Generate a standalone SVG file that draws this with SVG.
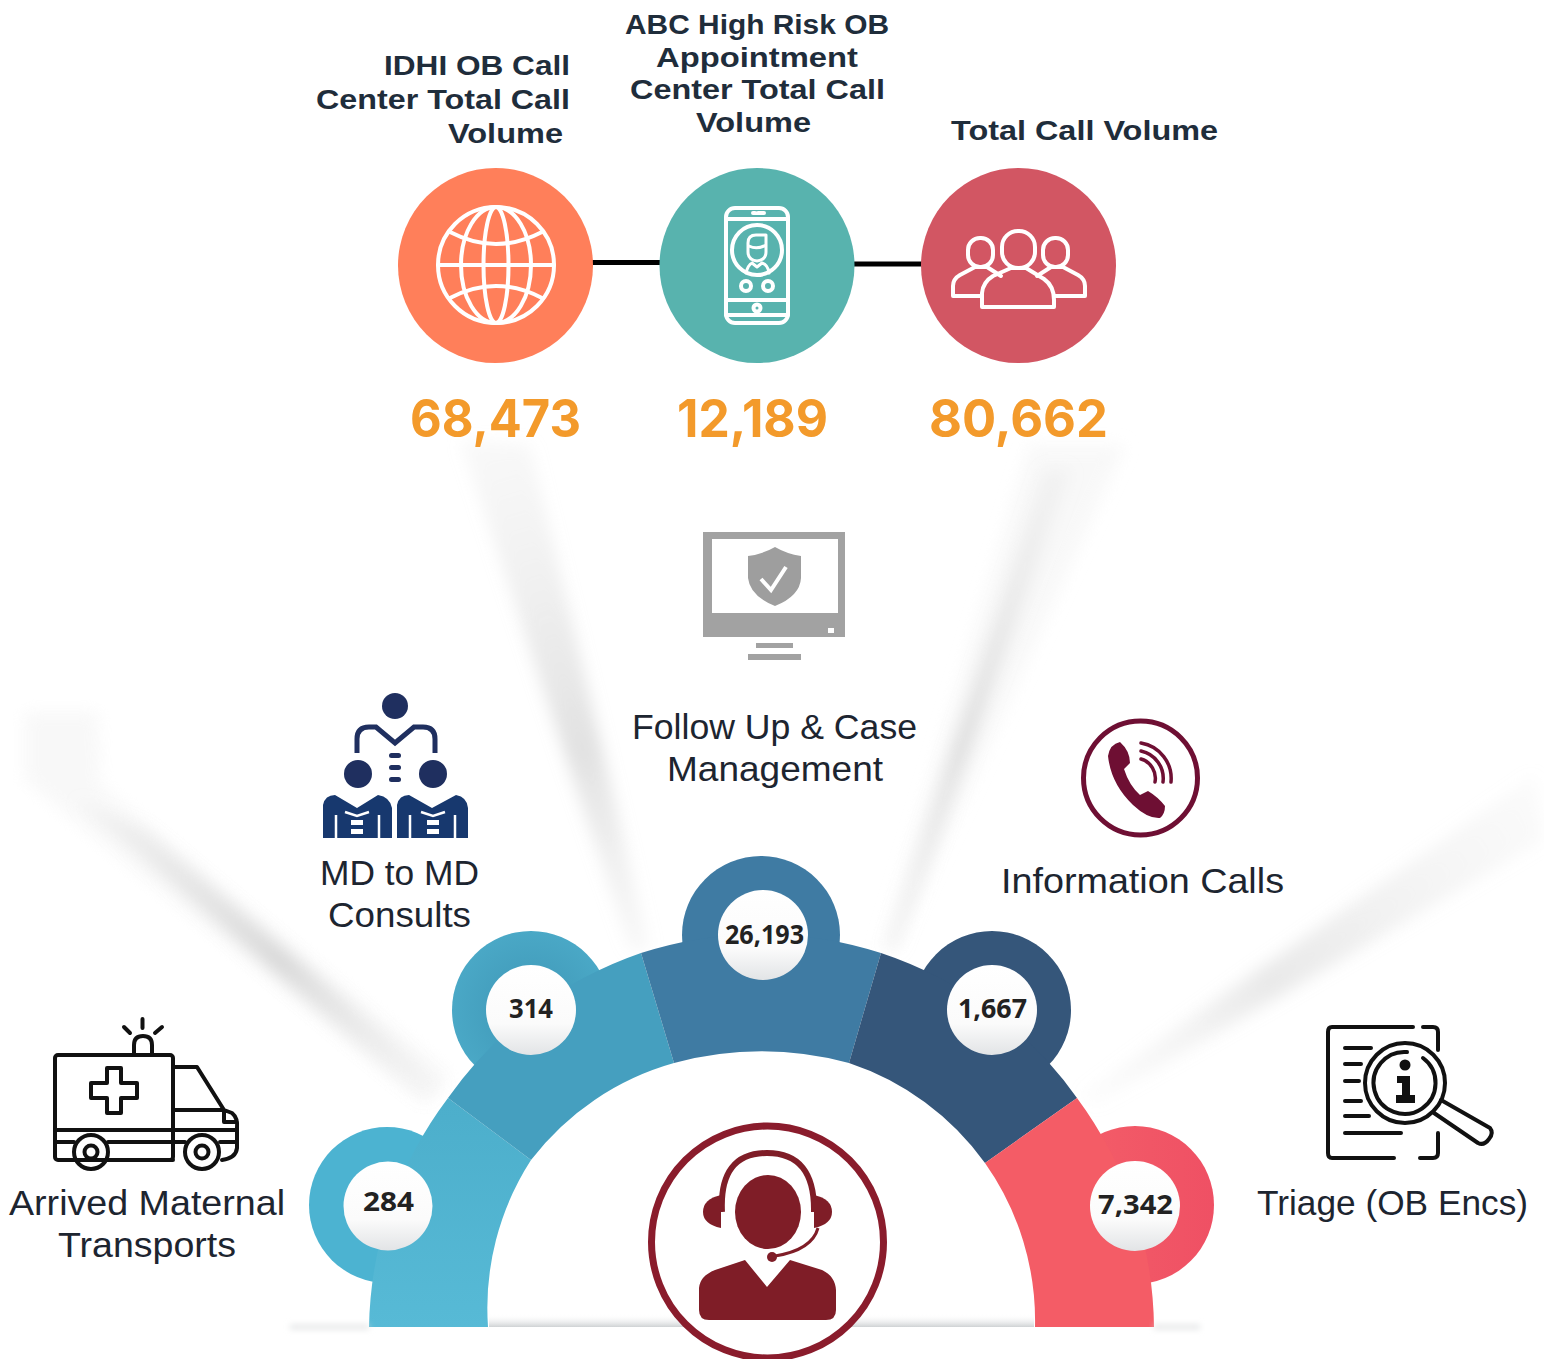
<svg xmlns="http://www.w3.org/2000/svg" width="1544" height="1359" viewBox="0 0 1544 1359">
<style>
.t{font-family:"Liberation Sans",Arial,sans-serif;font-weight:700;font-size:28px;fill:#1f2d3b}
.n{font-family:Inter,"Liberation Sans",sans-serif;font-weight:700;font-size:52px;fill:#f39a2b}
.l{font-family:"Liberation Sans",Arial,sans-serif;font-weight:400;font-size:35px;fill:#1d2530}
.v{font-family:"Noto Sans","Liberation Sans",sans-serif;font-weight:700;font-size:27px;fill:#222}
.w{fill:none;stroke:#fff;stroke-width:4;stroke-linejoin:round;stroke-linecap:round}
.k{fill:none;stroke:#111;stroke-width:4;stroke-linejoin:round;stroke-linecap:round}
</style>
<defs>
<filter id="b8" x="-30%" y="-30%" width="160%" height="160%"><feGaussianBlur stdDeviation="8"/></filter>
<filter id="b3" x="-10%" y="-200%" width="120%" height="500%"><feGaussianBlur stdDeviation="3"/></filter>
<linearGradient id="rL" gradientUnits="userSpaceOnUse" x1="40" y1="760" x2="440" y2="1095"><stop offset="0" stop-color="#ddd" stop-opacity=".15"/><stop offset=".6" stop-color="#c4c4c4" stop-opacity=".6"/><stop offset="1" stop-color="#ddd" stop-opacity=".1"/></linearGradient>
<linearGradient id="rC1" gradientUnits="userSpaceOnUse" x1="490" y1="450" x2="640" y2="950"><stop offset="0" stop-color="#ddd" stop-opacity=".2"/><stop offset=".6" stop-color="#c4c4c4" stop-opacity=".5"/><stop offset="1" stop-color="#ddd" stop-opacity=".2"/></linearGradient>
<linearGradient id="rC2" gradientUnits="userSpaceOnUse" x1="1080" y1="450" x2="890" y2="950"><stop offset="0" stop-color="#ddd" stop-opacity=".2"/><stop offset=".6" stop-color="#c4c4c4" stop-opacity=".5"/><stop offset="1" stop-color="#ddd" stop-opacity=".2"/></linearGradient>
<linearGradient id="rR" gradientUnits="userSpaceOnUse" x1="1530" y1="800" x2="1090" y2="1095"><stop offset="0" stop-color="#ddd" stop-opacity=".15"/><stop offset=".6" stop-color="#c8c8c8" stop-opacity=".4"/><stop offset="1" stop-color="#ddd" stop-opacity=".1"/></linearGradient>
<linearGradient id="ball" x1="0" y1="0" x2="0" y2="1"><stop offset="0" stop-color="#fff"/><stop offset=".65" stop-color="#fbfbfb"/><stop offset="1" stop-color="#e2e4e6"/></linearGradient>
<linearGradient id="floor" x1="0" y1="0" x2="0" y2="1"><stop offset="0" stop-color="#fff" stop-opacity="0"/><stop offset="1" stop-color="#cfd2d4"/></linearGradient>
<linearGradient id="gLight" x1="0" y1="0" x2="0" y2="1"><stop offset="0" stop-color="#4caecb"/><stop offset="1" stop-color="#57bad6"/></linearGradient>
<linearGradient id="gRed" x1="0" y1="0" x2="1" y2="0"><stop offset="0" stop-color="#f45f69"/><stop offset="1" stop-color="#ef5064"/></linearGradient>
<radialGradient id="gTeal" cx=".5" cy=".5" r=".5"><stop offset="0" stop-color="#3e96b6"/><stop offset="1" stop-color="#4aa8c6"/></radialGradient>
</defs>
<rect width="1544" height="1359" fill="#fff"/>
<g id="rays">
<polygon points="25,712 98,712 100,785 450,1075 425,1105 25,780" fill="#f0f0f0" opacity=".45" filter="url(#b8)"/>
<polygon points="75,800 145,830 445,1085 425,1102" fill="url(#rL)" filter="url(#b8)"/>
<polygon points="460,440 530,445 650,950 630,950" fill="url(#rC1)" filter="url(#b8)"/>
<polygon points="1030,445 1125,445 895,950 880,950" fill="#f2f2f2" opacity=".5" filter="url(#b8)"/>
<polygon points="1045,470 1070,470 898,950 885,950" fill="url(#rC2)" filter="url(#b8)"/>
<polygon points="1535,775 1544,840 1095,1105 1080,1095" fill="url(#rR)" filter="url(#b8)"/>
</g>
<g id="connectors">
<line x1="590" y1="262.500" x2="664" y2="262.500" stroke="#000" stroke-width="5"/>
<line x1="851" y1="264" x2="925" y2="264" stroke="#000" stroke-width="5"/>
</g>
<g id="node-idhi">
<circle cx="495.500" cy="265.500" r="97.500" fill="#ff7f5a"/>
<g class="w">
<circle cx="496" cy="265" r="58"/><ellipse cx="496" cy="265" rx="35" ry="58"/><ellipse cx="496" cy="265" rx="12.500" ry="58"/>
<path d="M438,265H554M450,232Q496,256 542,232M450,298Q496,274 542,298"/>
</g>
</g>
<g id="node-abc">
<circle cx="757" cy="265.500" r="97.500" fill="#58b3ae"/>
<g class="w">
<rect x="726" y="208" width="62" height="115" rx="9"/>
<path d="M726,219H788M726,300H788M726,315H788"/>
<path d="M753,213H755M758,213H764"/>
<circle cx="757" cy="250" r="25"/>
<path style="stroke-width:3" d="M748,243Q748,235 756,235H766V252Q766,260 757,261Q748,260 748,252ZM749,246Q757,250 766,245M746,273Q748,265 752,263L757,267L762,263Q768,265 769,273"/>
<circle cx="746" cy="286" r="5"/><circle cx="768" cy="286" r="5"/><circle cx="757" cy="308" r="3.500"/>
</g>
</g>
<g id="node-total">
<circle cx="1018.500" cy="265.500" r="97.500" fill="#d25663"/>
<g class="w">
<rect x="1002" y="231" width="33" height="37" rx="16"/>
<rect x="968" y="238" width="25" height="29" rx="12"/>
<rect x="1043" y="238" width="25" height="29" rx="12"/>
<path d="M982,307V293Q983,282 993,276L1011,268H1026L1044,279Q1054,286 1054,300V307Z"/>
<path d="M982,296H953V286Q953,279 960,275L975,267H987L1001,276"/>
<path d="M1054,296H1085V286Q1085,279 1078,275L1063,267H1051L1037,276"/>
</g>
</g>
<text class="t" x="384" y="75" textLength="186" lengthAdjust="spacingAndGlyphs">IDHI OB Call</text>
<text class="t" x="316" y="109" textLength="254" lengthAdjust="spacingAndGlyphs">Center Total Call</text>
<text class="t" x="448" y="143" textLength="115" lengthAdjust="spacingAndGlyphs">Volume</text>
<text class="t" x="625" y="34" textLength="264" lengthAdjust="spacingAndGlyphs">ABC High Risk OB</text>
<text class="t" x="656" y="67" textLength="202" lengthAdjust="spacingAndGlyphs">Appointment</text>
<text class="t" x="630" y="99" textLength="255" lengthAdjust="spacingAndGlyphs">Center Total Call</text>
<text class="t" x="696" y="132" textLength="115" lengthAdjust="spacingAndGlyphs">Volume</text>
<text class="t" x="951" y="140" textLength="267" lengthAdjust="spacingAndGlyphs">Total Call Volume</text>
<text class="n" x="410" y="437" textLength="171" lengthAdjust="spacingAndGlyphs">68,473</text>
<text class="n" x="677" y="437" textLength="151" lengthAdjust="spacingAndGlyphs">12,189</text>
<text class="n" x="929" y="437" textLength="179" lengthAdjust="spacingAndGlyphs">80,662</text>
<g id="node-followup">
<path d="M703,532H845V637H703ZM712,539V613H838V539Z" fill="#a2a2a2" fill-rule="evenodd"/>
<path d="M775,547Q787,554 801,556V578Q800,596 775,606Q750,596 748,578V556Q763,554 775,547Z" fill="#9e9e9e"/>
<path d="M761,579L771,590L786,567" fill="none" stroke="#fff" stroke-width="4"/>
<rect x="828" y="628" width="6" height="5" fill="#fff"/>
<rect x="756" y="643" width="37" height="5" fill="#a2a2a2"/><rect x="748" y="654" width="53" height="6" fill="#a2a2a2"/>
<text class="l" x="632" y="739" textLength="285" lengthAdjust="spacingAndGlyphs">Follow Up &amp; Case</text>
<text class="l" x="667" y="781" textLength="216" lengthAdjust="spacingAndGlyphs">Management</text>
</g>
<g id="node-md">
<circle cx="395" cy="706" r="13" fill="#1f2f5f"/>
<path d="M357,753V739Q357,727 369,727H376L395,743L414,727H423Q435,727 435,739V753" fill="none" stroke="#1f2f5f" stroke-width="5"/>
<circle cx="358" cy="774" r="14" fill="#1f2f5f"/><circle cx="433" cy="774" r="14" fill="#1f2f5f"/>
<rect x="389" y="753" width="12" height="5" rx="2.500" fill="#1f2f5f"/><rect x="389" y="765" width="12" height="5" rx="2.500" fill="#1f2f5f"/><rect x="389" y="777" width="12" height="5" rx="2.500" fill="#1f2f5f"/>
<path d="M323,838V805Q325,795 335,795L357,808L378,795Q390,797 392,808V838Z" fill="#17386e"/>
<path d="M397,838V805Q399,795 409,795L432,808L456,795Q467,797 468,808V838Z" fill="#17386e"/>
<path d="M336,815V838M379,815V838M410,815V838M455,815V838M345,812L357,816L369,812M421,812L433,816L445,812" fill="none" stroke="#fff" stroke-width="2.500"/>
<rect x="351" y="820" width="12" height="5" fill="#fff"/><rect x="351" y="829" width="12" height="5" fill="#fff"/>
<rect x="427" y="820" width="12" height="5" fill="#fff"/><rect x="427" y="829" width="12" height="5" fill="#fff"/>
<text class="l" x="320" y="885" textLength="159" lengthAdjust="spacingAndGlyphs">MD to MD</text>
<text class="l" x="328" y="927" textLength="143" lengthAdjust="spacingAndGlyphs">Consults</text>
</g>
<g id="node-info">
<circle cx="1140.500" cy="778" r="57" fill="none" stroke="#6e0f33" stroke-width="5"/>
<path d="M1120,742Q1110,744 1108,756Q1111,784 1133,805Q1148,819 1160,818Q1165,814 1165,806Q1158,797 1148,791L1140,795Q1129,785 1124,769L1130,763Q1130,751 1120,742Z" fill="#6e0f33"/>
<path d="M1141,743A36,36 0 0 1 1171,782M1141,751A28,28 0 0 1 1163,782M1141,759A20,20 0 0 1 1155,782" fill="none" stroke="#6e0f33" stroke-width="3.500" stroke-linecap="round"/>
<text class="l" x="1001" y="893" textLength="283" lengthAdjust="spacingAndGlyphs">Information Calls</text>
</g>
<g id="node-ambulance">
<g class="k">
<rect x="55" y="1055" width="118" height="105" rx="3"/>
<path d="M107,1068H121V1083H137V1098H121V1113H107V1098H91V1083H107Z"/>
<path d="M134,1054V1045Q134,1036 143,1036Q152,1036 152,1045V1054"/>
<path d="M173,1067H197L224,1110L232,1113Q238,1118 237,1128V1148Q236,1158 222,1160M173,1110H224V1122H237M55,1130H237M55,1142H74M108,1142H173M173,1142H185M220,1142H237M108,1160H173"/>
<circle cx="91" cy="1152" r="17"/><circle cx="91" cy="1152" r="6.500"/>
<circle cx="202" cy="1152" r="17"/><circle cx="202" cy="1152" r="6.500"/>
<path d="M142.500,1019V1028M124,1027L130,1033M162,1027L155,1033"/>
</g>
<text class="l" x="9" y="1215" textLength="276" lengthAdjust="spacingAndGlyphs">Arrived Maternal</text>
<text class="l" x="58" y="1257" textLength="178" lengthAdjust="spacingAndGlyphs">Transports</text>
</g>
<g id="node-triage">
<path class="k" d="M1413,1027H1332Q1328,1027 1328,1032V1153Q1328,1158 1332,1158H1394M1423,1027H1433Q1438,1027 1438,1032V1050M1438,1133V1153Q1438,1158 1433,1158H1420"/>
<path class="k" d="M1345,1048H1371M1345,1064H1361M1345,1081H1359M1345,1101H1361M1345,1116H1369M1345,1133H1401"/>
<circle cx="1405" cy="1083" r="40" fill="#fff" stroke="#111" stroke-width="4"/>
<path class="k" d="M1407,1052A31,31 0 1,0 1423,1058"/>
<circle cx="1405" cy="1065" r="5.500" fill="#111"/>
<path d="M1397,1076H1410V1095H1415V1103H1396V1095H1402V1083H1397Z" fill="#111"/>
<path class="k" d="M1441,1100L1490,1128Q1494,1133 1489,1139Q1484,1146 1478,1143L1434,1113"/>
<text class="l" x="1257" y="1215" textLength="271" lengthAdjust="spacingAndGlyphs">Triage (OB Encs)</text>
</g>
<g id="arc">
<circle cx="387" cy="1205" r="78" fill="#4cb3d1"/>
<circle cx="531" cy="1010" r="79" fill="url(#gTeal)"/>
<circle cx="761" cy="935" r="79" fill="#3f7ba3"/>
<circle cx="992" cy="1010" r="79" fill="#35567a"/>
<circle cx="1135" cy="1205" r="79" fill="url(#gRed)"/>
<path d="M369,1327A392,392 0 0 1 448,1098L531,1160A273,273 0 0 0 488,1327Z" fill="url(#gLight)"/>
<path d="M448,1098A392,392 0 0 1 641,953L674,1063A273,273 0 0 0 531,1160Z" fill="#459fbf"/>
<path d="M641,953A392,392 0 0 1 881,953L849,1063A340,340 0 0 0 674,1063Z" fill="#3f7ba3"/>
<path d="M881,953A392,392 0 0 1 1077,1098L985,1163A273,273 0 0 0 849,1063Z" fill="#35567a"/>
<path d="M1077,1098A392,392 0 0 1 1154,1327H1035A273,273 0 0 0 985,1163Z" fill="#f45c66"/>
<rect x="489" y="1314" width="545" height="13" fill="url(#floor)"/>
<rect x="290" y="1325" width="79" height="4" fill="#dfe1e2" filter="url(#b3)"/>
<rect x="1154" y="1325" width="46" height="4" fill="#dfe1e2" filter="url(#b3)"/>
</g>
<g id="node-284"><circle cx="388" cy="1206" r="44.500" fill="url(#ball)"/><text class="v" x="363" y="1211" textLength="51" lengthAdjust="spacingAndGlyphs">284</text></g>
<g id="node-314"><circle cx="531" cy="1010" r="45" fill="url(#ball)"/><text class="v" x="509" y="1018" textLength="44" lengthAdjust="spacingAndGlyphs">314</text></g>
<g id="node-26193"><circle cx="763" cy="935" r="45" fill="url(#ball)"/><text class="v" x="725" y="944" textLength="79" lengthAdjust="spacingAndGlyphs">26,193</text></g>
<g id="node-1667"><circle cx="992" cy="1010" r="45" fill="url(#ball)"/><text class="v" x="958" y="1018" textLength="69" lengthAdjust="spacingAndGlyphs">1,667</text></g>
<g id="node-7342"><circle cx="1135" cy="1206" r="45" fill="url(#ball)"/><text class="v" x="1098" y="1214" textLength="75" lengthAdjust="spacingAndGlyphs">7,342</text></g>
<g id="node-agent">
<circle cx="767.500" cy="1242" r="116" fill="#fff" stroke="#8a1c2c" stroke-width="7"/>
<ellipse cx="768" cy="1212" rx="33" ry="37" fill="#7f1d27"/>
<path d="M722,1212Q719,1153 767,1153Q815,1153 814,1212" fill="none" stroke="#7f1d27" stroke-width="6"/>
<path d="M721,1195Q703,1199 703,1212Q703,1224 721,1228Z" fill="#7f1d27"/>
<path d="M814,1195Q832,1199 832,1212Q832,1224 814,1228Z" fill="#7f1d27"/>
<path d="M818,1228Q812,1250 775,1256" fill="none" stroke="#7f1d27" stroke-width="3"/>
<circle cx="772" cy="1257" r="5" fill="#7f1d27"/>
<path d="M699,1310V1288Q700,1276 715,1270L745,1260L767,1287L790,1260L822,1270Q835,1276 836,1290V1310Q836,1320 826,1320H709Q699,1320 699,1310Z" fill="#7f1d27"/>
</g>
</svg>
